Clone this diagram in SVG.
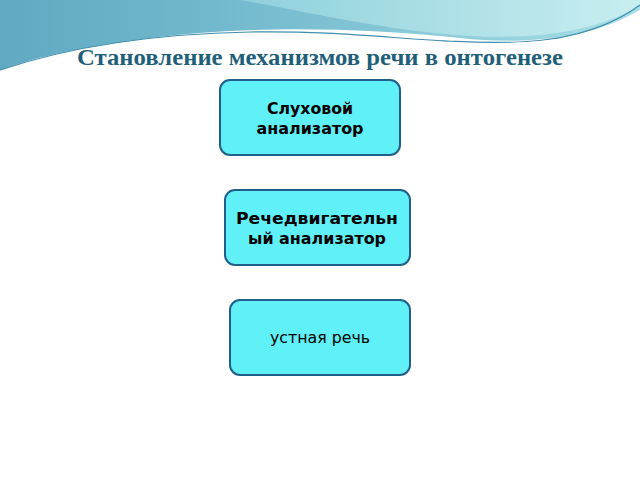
<svg xmlns="http://www.w3.org/2000/svg" width="640" height="480" viewBox="0 0 640 480">
<defs>
<linearGradient id="sky" x1="0" y1="0" x2="1" y2="0">
<stop offset="0" stop-color="#5fa9c2"/><stop offset="0.5" stop-color="#7cc0d2"/><stop offset="1" stop-color="#a9dfe6"/>
</linearGradient>
<linearGradient id="sky2" x1="0" y1="0" x2="1" y2="0">
<stop offset="0" stop-color="#8fd0dc"/><stop offset="1" stop-color="#c8eef0"/>
</linearGradient>
<style>
.box{fill:#5ff0f8;stroke:#1f5f8a;stroke-width:2}
.t{font-family:"DejaVu Sans","Noto Sans",sans-serif;font-size:15px;fill:#000;text-anchor:middle}
.b{font-weight:bold}
</style>
</defs>
<rect width="640" height="480" fill="#ffffff"/>
<g id="background">
<path d="M0,0 H640 V10 C590,40 520,45 460,38 C360,28 250,25 150,38 C90,46 40,55 0,70 Z" fill="url(#sky)"/>
<path d="M240,0 H640 V5 C600,30 540,40 470,36 C380,30 300,10 240,0 Z" fill="url(#sky2)"/>
<path d="M0,70 C60,50 140,34 250,32 C360,30 430,45 520,42 C580,40 620,20 640,5" fill="none" stroke="#3f8fb0" stroke-width="1.2"/>
<path d="M20,68 C100,44 200,36 300,37 C400,38 480,52 560,40 C600,33 625,20 640,12" fill="none" stroke="#ffffff" stroke-width="3"/>
</g>
<text x="320" y="65" font-family="Liberation Serif,serif" font-weight="bold" font-size="23" fill="#1f5f7a" text-anchor="middle" textLength="486" lengthAdjust="spacingAndGlyphs">Становление механизмов речи в онтогенезе</text>
<g id="node1">
<rect class="box" x="220" y="80" width="180" height="75" rx="10"/>
<text class="t b" x="310" y="114" textLength="86" lengthAdjust="spacingAndGlyphs">Слуховой</text>
<text class="t b" x="310" y="134" textLength="107" lengthAdjust="spacingAndGlyphs">анализатор</text>
</g>
<g id="node2">
<rect class="box" x="225" y="190" width="185" height="75" rx="10"/>
<text class="t b" x="317" y="224" textLength="162" lengthAdjust="spacingAndGlyphs">Речедвигательн</text>
<text class="t b" x="317" y="244" textLength="138" lengthAdjust="spacingAndGlyphs">ый анализатор</text>
</g>
<g id="node3">
<rect class="box" x="230" y="300" width="180" height="75" rx="10"/>
<text class="t" x="320" y="343" textLength="100" lengthAdjust="spacingAndGlyphs">устная речь</text>
</g>
<g id="connectors"/>
</svg>
